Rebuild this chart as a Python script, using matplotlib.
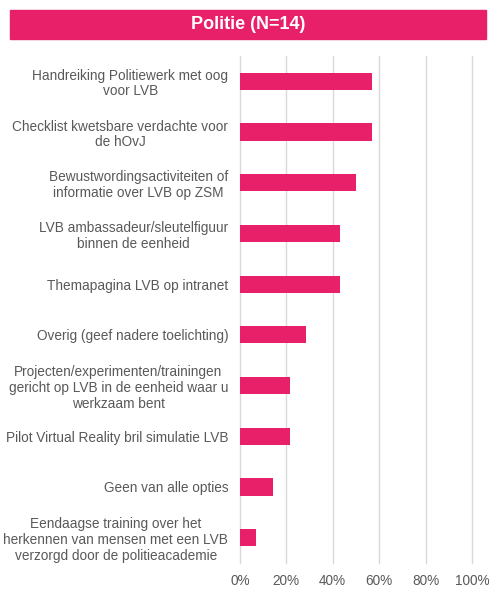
import matplotlib
matplotlib.use("Agg")
import matplotlib.pyplot as plt
from matplotlib.patches import Rectangle
from matplotlib.ticker import PercentFormatter

plt.rcParams["font.family"] = ["Liberation Sans", "DejaVu Sans"]

# Data (N=14)
categories = [
    "Handreiking Politiewerk met oog\nvoor LVB",
    "Checklist kwetsbare verdachte voor\nde hOvJ",
    "Bewustwordingsactiviteiten of\ninformatie over LVB op ZSM",
    "LVB ambassadeur/sleutelfiguur\nbinnen de eenheid",
    "Themapagina LVB op intranet",
    "Overig (geef nadere toelichting)",
    "Projecten/experimenten/trainingen\ngericht op LVB in de eenheid waar u\nwerkzaam bent",
    "Pilot Virtual Reality bril simulatie LVB",
    "Geen van alle opties",
    "Eendaagse training over het\nherkennen van mensen met een LVB\nverzorgd door de politieacademie",
]
percentages = [57.1, 57.1, 50.0, 42.9, 42.9, 28.6, 21.4, 21.4, 14.3, 7.1]
title = "Politie (N=14)"

pink = "#E8206A"
grey_text = "#595959"

fig = plt.figure(figsize=(4.9, 5.89), dpi=100)
ax = fig.add_axes([240 / 490, 26 / 589, 232 / 490, 507 / 589])

pos = list(range(len(categories)))
ax.barh(pos, percentages, height=0.34, color=pink, zorder=3)
ax.set_ylim(len(categories) - 0.5, -0.5)
ax.set_xlim(0, 100)
ax.set_xticks([0, 20, 40, 60, 80, 100])
ax.xaxis.set_major_formatter(PercentFormatter(decimals=0))
ax.set_yticks(pos)
ax.set_yticklabels(categories, multialignment="center", linespacing=1.15)
ax.tick_params(axis="both", length=0, colors=grey_text)
ax.tick_params(axis="y", pad=8.5, labelsize=9.8)
ax.tick_params(axis="x", pad=8, labelsize=9.8)
ax.grid(axis="x", color="#D9D9D9", linewidth=1, zorder=0)
for gl in ax.get_xgridlines():
    gl.set_clip_on(False)
for s in ax.spines.values():
    s.set_visible(False)

# title bar
fig.patches.append(Rectangle((10 / 490, 550 / 589), 476 / 490, 29 / 589,
                             transform=fig.transFigure, color=pink, zorder=0))
fig.text(248 / 490, 564.5 / 589, title, color="white", fontsize=13,
         fontweight="bold", ha="center", va="center")

fig.savefig("out.png", dpi=100)
